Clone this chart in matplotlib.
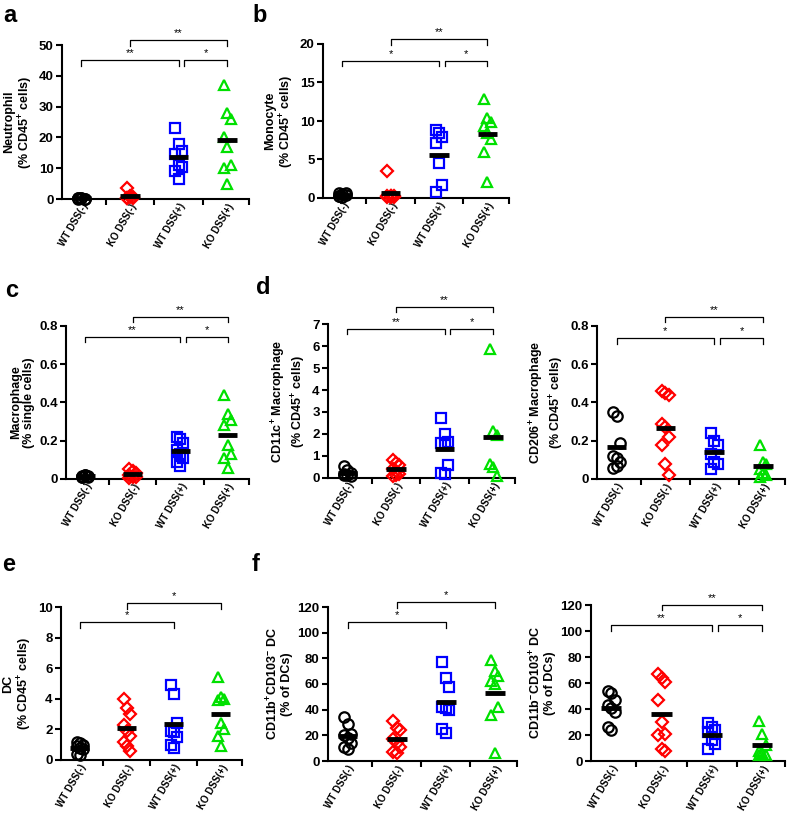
import matplotlib
matplotlib.use("Agg")
import matplotlib.pyplot as plt
import numpy as np

plt.rcParams['font.family'] = ['Liberation Sans', 'DejaVu Sans']
plt.rcParams['font.weight'] = 'bold'
plt.rcParams['mathtext.fontset'] = 'custom'
plt.rcParams['mathtext.rm'] = 'Liberation Sans:bold'
plt.rcParams['mathtext.bf'] = 'Liberation Sans:bold'
plt.rcParams['mathtext.default'] = 'bf'

# group names shared by every panel
groups = ["WT DSS(-)", "KO DSS(-)", "WT DSS(+)", "KO DSS(+)"]

# a - neutrophil
neut_wt_m = [0.1, 0.2, 0.1, 0.3, 0.2, 0.1, 0.2]
neut_ko_m = [3.5, 1.0, 0.5, 0.3, 0.6, 0.2, 0.4]
neut_wt_p = [23, 18, 15.5, 14.5, 11, 10.5, 9, 6.5]
neut_ko_p = [37, 28, 26, 20, 17, 11, 10, 5]

# b - monocyte
mono_wt_m = [0.3, 0.5, 0.7, 0.2, 0.1, 0.4, 0.6]
mono_ko_m = [3.5, 0.3, 0.2, 0.1, 0.2, 0.1, 0.2, 0.1]
mono_wt_p = [8.8, 8.4, 7.9, 7.1, 4.6, 1.7, 0.8]
mono_ko_p = [12.9, 10.4, 9.9, 9.4, 8.5, 7.6, 6.0, 2.1]

# c - macrophage
mac_wt_m = [0.01, 0.02, 0.015, 0.01, 0.02, 0.01, 0.015]
mac_ko_m = [0.05, 0.04, 0.03, 0.02, 0.01, 0.01, 0.005]
mac_wt_p = [0.22, 0.21, 0.19, 0.15, 0.13, 0.11, 0.09, 0.07]
mac_ko_p = [0.44, 0.34, 0.31, 0.28, 0.18, 0.13, 0.11, 0.06]

# d - CD11c+ macrophage
cd11c_wt_m = [0.55, 0.35, 0.25, 0.2, 0.15, 0.1, 0.15]
cd11c_ko_m = [0.8, 0.7, 0.6, 0.4, 0.3, 0.2, 0.1, 0.15]
cd11c_wt_p = [2.75, 2.0, 1.65, 1.6, 1.5, 0.6, 0.25, 0.2]
cd11c_ko_p = [5.85, 2.15, 1.95, 0.65, 0.5, 0.1]

# d - CD206+ macrophage
cd206_wt_m = [0.35, 0.33, 0.19, 0.12, 0.11, 0.09, 0.06, 0.07]
cd206_ko_m = [0.46, 0.45, 0.44, 0.29, 0.27, 0.22, 0.18, 0.08, 0.02]
cd206_wt_p = [0.24, 0.2, 0.18, 0.13, 0.09, 0.08, 0.05]
cd206_ko_p = [0.18, 0.09, 0.08, 0.05, 0.03, 0.02, 0.01]

# e - DC
dc_wt_m = [1.2, 1.1, 1.0, 0.9, 0.8, 0.7, 0.4, 0.35]
dc_ko_m = [4.0, 3.4, 3.0, 2.3, 1.9, 1.6, 1.2, 0.9, 0.6]
dc_wt_p = [4.9, 4.3, 2.4, 1.9, 1.8, 1.5, 1.0, 0.8]
dc_ko_p = [5.4, 4.1, 4.0, 3.9, 2.4, 2.0, 1.6, 0.9]

# f - CD11b+CD103- DC
b103n_wt_m = [34, 29, 21, 20, 18, 14, 11, 9]
b103n_ko_m = [31, 26, 24, 17, 14, 11, 7, 6]
b103n_wt_p = [77, 65, 58, 42, 41, 40, 25, 22]
b103n_ko_p = [79, 70, 66, 62, 60, 42, 36, 6]

# f - CD11b-CD103+ DC
b103p_wt_m = [54, 52, 47, 43, 41, 38, 26, 24]
b103p_ko_m = [67, 64, 61, 47, 30, 21, 20, 9, 8]
b103p_wt_p = [29, 26, 24, 22, 16, 13, 9]
b103p_ko_p = [31, 21, 12, 8, 6, 5, 5]

colors = ['black', '#ff0000', '#0000ff', '#00e000']
markers = ['o', 'D', 's', '^']
msizes = [7.5, 6, 7, 7.5]

fig = plt.figure(figsize=(7.89, 8.14), dpi=100)
W, H = 789, 814


def add_ax(l, r, t, b):
    return fig.add_axes([l / W, 1 - b / H, (r - l) / W, (b - t) / H])


def fmt(v):
    return '0' if v == 0 else f'{v:g}'


def panel(ax, data, ymax, ystep, ylabel, brackets):
    for i, vals in enumerate(data):
        xs = [i + ((k % 3) - 1) * 0.07 for k in range(len(vals))]
        ax.plot(xs, vals, linestyle='none', marker=markers[i], ms=msizes[i],
                mfc='none', mec=colors[i], mew=1.6, clip_on=False, zorder=3)
        m = np.mean(vals)
        ax.plot([i - 0.2, i + 0.2], [m, m], color='black', lw=3.5,
                solid_capstyle='butt', zorder=4, clip_on=False)
    ax.set_xlim(-0.4, 3.45)
    ax.set_ylim(0, ymax)
    ticks = np.arange(0, ymax + ystep / 2, ystep)
    ax.set_yticks(ticks)
    ax.set_yticklabels([fmt(round(t, 3)) for t in ticks])
    ax.set_xticks(range(4))
    ax.set_xticklabels(groups, rotation=60, ha='right', rotation_mode='anchor',
                       fontsize=7)
    ax.set_xticks([0.5, 1.5, 2.5, 3.45], minor=True)
    ax.tick_params(axis='x', which='major', length=0, pad=2)
    ax.tick_params(axis='x', which='minor', length=4, width=1.5, direction='out')
    ax.tick_params(axis='y', length=4, width=1.5, labelsize=9.5, pad=2)
    for s in ['top', 'right']:
        ax.spines[s].set_visible(False)
    for s in ['left', 'bottom']:
        ax.spines[s].set_linewidth(1.5)
    ax.set_ylabel(ylabel, fontsize=9, fontweight='bold', linespacing=1.1,
                  labelpad=3)
    for i, j, lev, txt in brackets:
        y = lev * ymax
        d = 0.035 * ymax
        x1 = i + 0.12 if any(bj == i and bl == lev for bi, bj, bl, bt in brackets) else i
        ax.plot([x1, x1, j, j], [y - d, y, y, y - d], color='black', lw=0.9,
                clip_on=False)
        ax.text((x1 + j) / 2, y + 0.012 * ymax, txt, ha='center', va='bottom',
                fontsize=8, fontweight='normal')


ax = add_ax(62, 249, 45, 199)
panel(ax, [neut_wt_m, neut_ko_m, neut_wt_p, neut_ko_p], 50, 10,
      'Neutrophil\n(% CD45$^{+}$ cells)',
      [(0, 2, 0.90, '**'), (2, 3, 0.90, '*'), (1, 3, 1.03, '**')])

ax = add_ax(323, 509, 44, 198)
panel(ax, [mono_wt_m, mono_ko_m, mono_wt_p, mono_ko_p], 20, 5,
      'Monocyte\n(% CD45$^{+}$ cells)',
      [(0, 2, 0.89, '*'), (2, 3, 0.89, '*'), (1, 3, 1.03, '**')])

ax = add_ax(66, 249, 326, 479)
panel(ax, [mac_wt_m, mac_ko_m, mac_wt_p, mac_ko_p], 0.8, 0.2,
      'Macrophage\n(% single cells)',
      [(0, 2, 0.93, '**'), (2, 3, 0.93, '*'), (1, 3, 1.06, '**')])

ax = add_ax(328, 515, 324, 478)
panel(ax, [cd11c_wt_m, cd11c_ko_m, cd11c_wt_p, cd11c_ko_p], 7, 1,
      'CD11c$^{+}$ Macrophage\n(% CD45$^{+}$ cells)',
      [(0, 2, 0.97, '**'), (2, 3, 0.97, '*'), (1, 3, 1.11, '**')])

ax = add_ax(597, 785, 326, 479)
panel(ax, [cd206_wt_m, cd206_ko_m, cd206_wt_p, cd206_ko_p], 0.8, 0.2,
      'CD206$^{+}$ Macrophage\n(% CD45$^{+}$ cells)',
      [(0, 2, 0.92, '*'), (2, 3, 0.92, '*'), (1, 3, 1.06, '**')])

ax = add_ax(61, 242, 607, 760)
panel(ax, [dc_wt_m, dc_ko_m, dc_wt_p, dc_ko_p], 10, 2,
      'DC\n(% CD45$^{+}$ cells)',
      [(0, 2, 0.90, '*'), (1, 3, 1.025, '*')])

ax = add_ax(328, 517, 607, 761)
panel(ax, [b103n_wt_m, b103n_ko_m, b103n_wt_p, b103n_ko_p], 120, 20,
      'CD11b$^{+}$CD103$^{-}$ DC\n(% of DCs)',
      [(0, 2, 0.90, '*'), (1, 3, 1.03, '*')])

ax = add_ax(591, 785, 605, 761)
panel(ax, [b103p_wt_m, b103p_ko_m, b103p_wt_p, b103p_ko_p], 120, 20,
      'CD11b$^{-}$CD103$^{+}$ DC\n(% of DCs)',
      [(0, 2, 0.87, '**'), (2, 3, 0.87, '*'), (1, 3, 1.0, '**')])

for lab, x, y in [('a', 3, 4), ('b', 252, 4), ('c', 5, 279), ('d', 256, 276),
                  ('e', 2, 553), ('f', 252, 553)]:
    fig.text(x / W, 1 - y / H, lab, fontsize=17, fontweight='bold', va='top', ha='left')

fig.savefig('out.png', dpi=100)
